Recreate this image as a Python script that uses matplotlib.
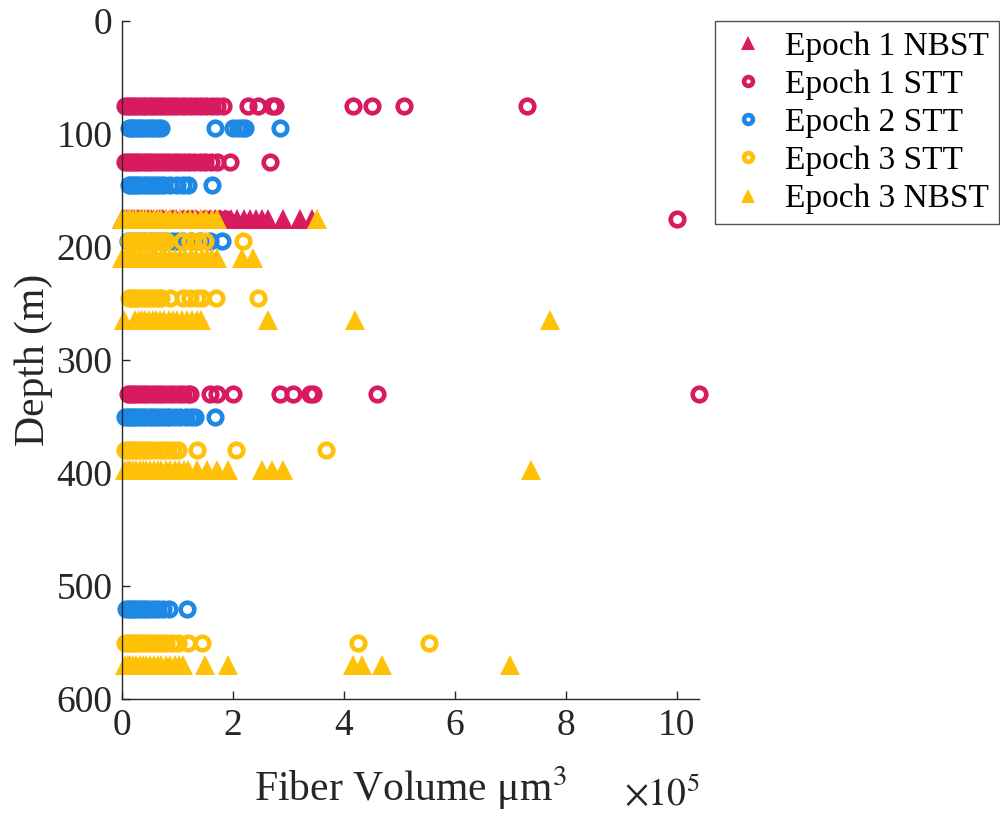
import matplotlib
matplotlib.use('Agg')
import matplotlib.pyplot as plt

plt.rcParams['font.family'] = ['Liberation Serif', 'DejaVu Serif']
plt.rcParams['mathtext.fontset'] = 'stix'

# fiber volume values are in units of 1e5 um^3, depth in m
e1_nbst_depth = [175]
e1_nbst_vol = [
    [0.0, 0.04, 0.09, 0.13, 0.18, 0.22, 0.27, 0.31, 0.36, 0.41, 0.46, 0.52, 0.57, 0.63,
     0.68, 0.74, 0.8, 0.86, 0.92, 0.98, 1.05, 1.12, 1.19, 1.26, 1.34, 1.42, 1.5, 1.58,
     1.67, 1.76, 1.86, 1.97, 2.08, 2.19, 2.3, 2.41, 2.52, 2.63, 2.9, 3.2, 3.42],
]

e1_stt_depth = [75, 125, 175, 330]
e1_stt_vol = [
    [0.05, 0.1, 0.15, 0.2, 0.26, 0.31, 0.37, 0.42, 0.48, 0.54, 0.6, 0.66, 0.72, 0.79,
     0.86, 0.93, 1.0, 1.08, 1.16, 1.24, 1.33, 1.42, 1.52, 1.62, 1.72, 1.82,
     2.28, 2.46, 2.7, 2.76, 4.16, 4.5, 5.08, 7.3],
    [0.05, 0.1, 0.16, 0.21, 0.27, 0.33, 0.39, 0.45, 0.51, 0.58, 0.65, 0.72, 0.79, 0.87,
     0.95, 1.03, 1.12, 1.21, 1.3, 1.4, 1.5, 1.6, 1.72, 1.95, 2.67],
    [0.1, 0.3, 0.5, 0.7, 0.9, 1.1, 1.3, 1.5, 1.75, 1.88, 10.0],
    [0.1, 0.15, 0.2, 0.26, 0.32, 0.38, 0.44, 0.5, 0.57, 0.64, 0.71, 0.78, 0.86, 0.94,
     1.02, 1.1, 1.19, 1.22, 1.59, 1.71, 2.0, 2.85, 3.08, 3.38, 3.44, 4.59, 10.4],
]

e2_stt_depth = [95, 145, 195, 350, 520]
e2_stt_vol = [
    [0.12, 0.16, 0.2, 0.25, 0.3, 0.35, 0.4, 0.46, 0.52, 0.58, 0.65, 0.71,
     1.68, 2.0, 2.09, 2.16, 2.22, 2.85],
    [0.12, 0.16, 0.21, 0.26, 0.31, 0.37, 0.43, 0.49, 0.55, 0.62, 0.69, 0.76,
     0.86, 0.99, 1.1, 1.19, 1.62],
    [0.1, 0.2, 0.3, 0.4, 0.5, 0.6, 0.7, 0.8, 0.9, 0.99, 1.1, 1.25, 1.4, 1.59, 1.8],
    [0.06, 0.1, 0.15, 0.2, 0.25, 0.3, 0.36, 0.42, 0.48, 0.54, 0.6, 0.67, 0.74, 0.81,
     0.86, 0.95, 1.05, 1.15, 1.24, 1.31, 1.68],
    [0.08, 0.12, 0.17, 0.22, 0.27, 0.32, 0.38, 0.44, 0.5, 0.57, 0.64, 0.74, 0.84, 1.17],
]

e3_stt_depth = [195, 245, 380, 550]
e3_stt_vol = [
    [0.12, 0.16, 0.21, 0.26, 0.31, 0.37, 0.43, 0.5, 0.57, 0.64, 0.72, 0.8,
     1.08, 1.23, 1.37, 1.5, 2.18],
    [0.12, 0.16, 0.21, 0.26, 0.31, 0.37, 0.43, 0.5, 0.57, 0.64, 0.71, 0.86,
     1.1, 1.23, 1.35, 1.44, 1.69, 2.45],
    [0.06, 0.1, 0.15, 0.2, 0.25, 0.31, 0.37, 0.43, 0.5, 0.59, 0.68, 0.76, 0.83, 0.92,
     1.01, 1.35, 2.05, 3.68],
    [0.06, 0.1, 0.15, 0.2, 0.25, 0.31, 0.37, 0.43, 0.5, 0.57, 0.64, 0.72, 0.8, 0.9,
     1.01, 1.19, 1.44, 4.25, 5.53],
]

e3_nbst_depth = [175, 210, 265, 397, 570]
e3_nbst_vol = [
    [0.0, 0.05, 0.1, 0.15, 0.2, 0.26, 0.32, 0.38, 0.44, 0.5, 0.57, 0.64, 0.71, 0.79,
     0.87, 0.95, 1.04, 1.13, 1.22, 1.32, 1.42, 1.52, 1.62, 1.72, 3.51],
    [0.0, 0.05, 0.1, 0.16, 0.22, 0.28, 0.34, 0.41, 0.48, 0.55, 0.62, 0.7, 0.78, 0.86,
     0.95, 1.04, 1.14, 1.24, 1.34, 1.44, 1.53, 1.62, 1.71, 2.16, 2.36],
    [0.03, 0.24, 0.3, 0.36, 0.42, 0.48, 0.55, 0.62, 0.69, 0.76, 0.84, 0.92, 1.0, 1.08,
     1.17, 1.26, 1.35, 1.42, 2.63, 4.2, 7.71],
    [0.06, 0.1, 0.15, 0.2, 0.26, 0.32, 0.38, 0.44, 0.5, 0.57, 0.64, 0.71, 0.79, 0.87,
     0.95, 1.03, 1.11, 1.19, 1.36, 1.53, 1.71, 1.91, 2.52, 2.7, 2.9, 7.37],
    [0.06, 0.1, 0.15, 0.2, 0.26, 0.32, 0.38, 0.44, 0.5, 0.57, 0.64, 0.71, 0.79, 0.87,
     0.95, 1.03, 1.1, 1.5, 1.91, 4.16, 4.32, 4.68, 7.0],
]

series = [
    ('Epoch 1 NBST', e1_nbst_depth, e1_nbst_vol, '^', '#D81B60'),
    ('Epoch 1 STT', e1_stt_depth, e1_stt_vol, 'o', '#D81B60'),
    ('Epoch 2 STT', e2_stt_depth, e2_stt_vol, 'o', '#1E88E5'),
    ('Epoch 3 STT', e3_stt_depth, e3_stt_vol, 'o', '#FFC107'),
    ('Epoch 3 NBST', e3_nbst_depth, e3_nbst_vol, '^', '#FFC107'),
]

fig = plt.figure(figsize=(10, 8.21), dpi=100)
ax = fig.add_axes([0.122, 0.1486, 0.577, 0.8258])

for label, depths, vols, marker, color in series:
    xs, ys = [], []
    for d, v in zip(depths, vols):
        xs += v
        ys += [d] * len(v)
    if marker == 'o':
        ax.plot(xs, ys, 'o', ms=9.8, mfc='none', mec=color, mew=3.3,
                label=label, clip_on=False)
    else:
        ax.plot(xs, ys, '^', ms=15, mfc=color, mec=color, mew=0,
                label=label, clip_on=False)

ax.set_xlim(0, 10.4)
ax.set_ylim(600, 0)
ax.set_xticks([0, 2, 4, 6, 8, 10])
ax.set_yticks([0, 100, 200, 300, 400, 500, 600])
ax.spines['top'].set_visible(False)
ax.spines['right'].set_visible(False)
for s in ['left', 'bottom']:
    ax.spines[s].set_color('#262626')
    ax.spines[s].set_linewidth(1)
ax.tick_params(direction='in', length=6, width=1, colors='#262626', labelsize=27, pad=7)

ax.set_xlabel('Fiber Volume μm$^3$', fontsize=30, color='#262626', labelpad=15)
ax.set_ylabel('Depth (m)', fontsize=30, color='#262626', labelpad=2)
fig.text(0.70, 1 - 806 / 821, r'$\times10^5$', ha='right', va='baseline',
         fontsize=27, color='#262626')

leg = ax.legend(loc='upper left', bbox_to_anchor=(1.028, 1.0), borderaxespad=0,
                fontsize=24, markerscale=0.65, fancybox=False, edgecolor='#262626',
                labelspacing=0.23, handletextpad=0.4, borderpad=0.3, handlelength=1.4)
leg.get_frame().set_linewidth(1)

fig.savefig('out.png', dpi=100)
